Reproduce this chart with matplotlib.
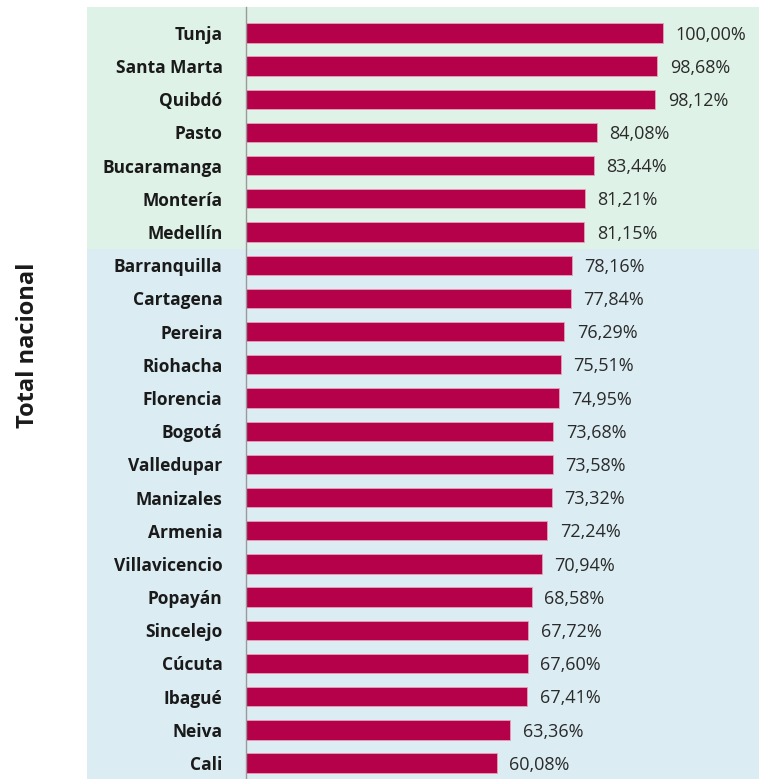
import matplotlib
matplotlib.use("Agg")
import matplotlib.pyplot as plt
from matplotlib.patches import Rectangle

ciudades = ["Tunja", "Santa Marta", "Quibdó", "Pasto", "Bucaramanga", "Montería",
            "Medellín", "Barranquilla", "Cartagena", "Pereira", "Riohacha", "Florencia",
            "Bogotá", "Valledupar", "Manizales", "Armenia", "Villavicencio", "Popayán",
            "Sincelejo", "Cúcuta", "Ibagué", "Neiva", "Cali"]
valores = [100.00, 98.68, 98.12, 84.08, 83.44, 81.21, 81.15, 78.16, 77.84, 76.29,
           75.51, 74.95, 73.68, 73.58, 73.32, 72.24, 70.94, 68.58, 67.72, 67.60,
           67.41, 63.36, 60.08]
n_verde = 7  # primeras filas con fondo verde

plt.rcParams['font.family'] = ['Open Sans', 'DejaVu Sans']

W, H = 759, 779
fig = plt.figure(figsize=(W / 100, H / 100), dpi=100)
ax = fig.add_axes([246 / W, 0, 1 - 246 / W, 1 - 7 / H])

pos = list(range(len(ciudades)))
n = len(ciudades)

# fondos de color
tr = ax.get_yaxis_transform()
x0 = (87 - 246) / (W - 246)
ax.add_patch(Rectangle((x0, -0.78), 1 - x0, n_verde + 0.28, transform=tr,
                       facecolor="#dff2e7", edgecolor="none", clip_on=False, zorder=0))
ax.add_patch(Rectangle((x0, n_verde - 0.5), 1 - x0, n - n_verde + 1, transform=tr,
                       facecolor="#dbecf3", edgecolor="none", clip_on=False, zorder=0))

ax.barh(pos, valores, height=0.58, color="#b5004a", edgecolor="#e8a0b8",
        linewidth=0.6, zorder=2)

for p, v in zip(pos, valores):
    ax.text(v + 3.0, p + 0.05, f"{v:.2f}".replace(".", ",") + "%", va="center", ha="left",
            fontsize=13, color="#2a2a2a", zorder=3)

ax.set_xlim(0, (W - 246) / 417 * 100)
ax.set_ylim(n - 1 + 0.48, -0.78)
ax.set_yticks(pos)
ax.set_yticklabels(ciudades, fontsize=12.5, fontweight="bold", color="#1a1a1a")
ax.tick_params(axis="y", length=0, pad=17)
ax.set_xticks([])
ax.patch.set_visible(False)
for s in ["top", "right", "bottom"]:
    ax.spines[s].set_visible(False)
ax.spines["left"].set_color("#9a9a9a")
ax.spines["left"].set_linewidth(1.0)

fig.text(28 / W, 1 - 345 / H, "Total nacional", rotation=90, ha="center", va="center",
         fontsize=17, fontweight="bold", color="#1a1a1a")

fig.savefig("out.png", dpi=100)
